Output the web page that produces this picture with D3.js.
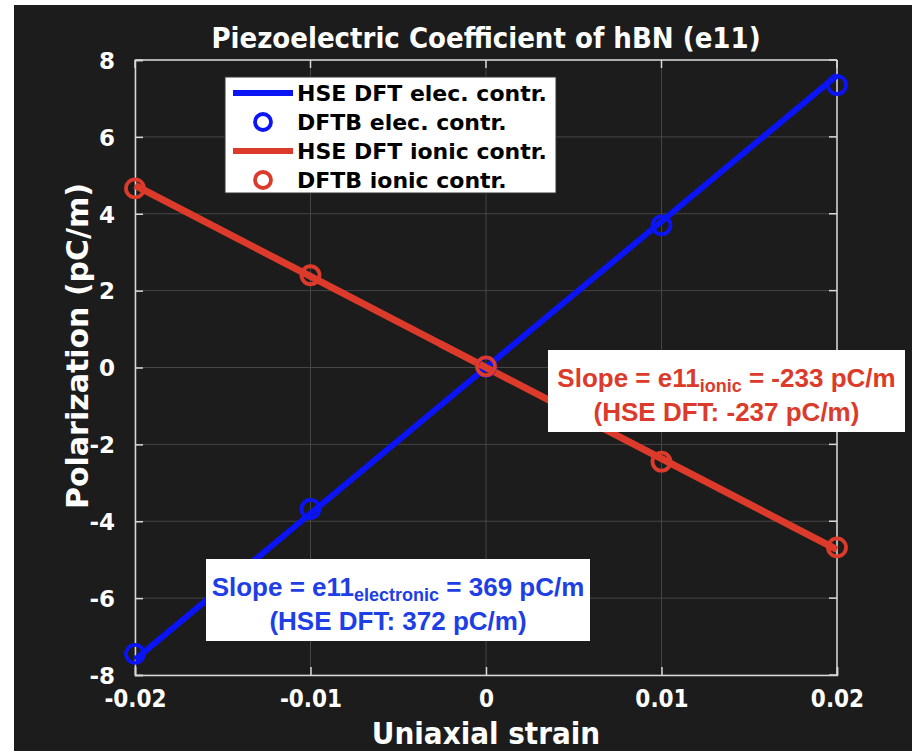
<!DOCTYPE html>
<html><head><meta charset="utf-8">
<script src="https://cdn.jsdelivr.net/npm/d3@7"></script>
<style>body{margin:0;background:#fff;} svg{display:block;}</style>
</head><body>
<svg id="c" width="912" height="751"></svg>
<script>
const strain = [-0.02, -0.01, 0, 0.01, 0.02];
const hseElec = [-7.6, -3.8, 0, 3.8, 7.6];
const dftbElec = [-7.45, -3.68, 0.02, 3.7, 7.35];
const hseIonic = [4.74, 2.37, 0, -2.37, -4.74];
const dftbIonic = [4.66, 2.4, 0.03, -2.45, -4.68];
const xTicks = [-0.02, -0.01, 0, 0.01, 0.02];
const xTickLabels = ["-0.02", "-0.01", "0", "0.01", "0.02"];
const yTicks = [-8, -6, -4, -2, 0, 2, 4, 6, 8];
const legendLabels = ["HSE DFT elec. contr.", "DFTB elec. contr.", "HSE DFT ionic contr.", "DFTB ionic contr."];

const BLUE = "#0a14f5", RED = "#dc3b2b";
const svg = d3.select("#c");
svg.append("rect").attr("x", 14).attr("y", 5).attr("width", 898).attr("height", 746).attr("fill", "#1c1c1c");

const L = 135, R = 837, T = 60, B = 675;
const x = d3.scaleLinear().domain([-0.02, 0.02]).range([L, R]);
const y = d3.scaleLinear().domain([-8, 8]).range([B, T]);

// grid
const g = svg.append("g");
g.selectAll(".gx").data(xTicks).join("line")
  .attr("x1", d => x(d)).attr("x2", d => x(d)).attr("y1", T).attr("y2", B)
  .attr("stroke", "#454545").attr("stroke-width", 1);
g.selectAll(".gy").data(yTicks).join("line")
  .attr("y1", d => y(d)).attr("y2", d => y(d)).attr("x1", L).attr("x2", R)
  .attr("stroke", "#454545").attr("stroke-width", 1);

// axes
const xa = svg.append("g").attr("transform", `translate(0,${B})`)
  .call(d3.axisBottom(x).tickValues(xTicks).tickFormat((d, i) => xTickLabels[i]).tickSize(-8).tickPadding(15));
const ya = svg.append("g").attr("transform", `translate(${L},0)`)
  .call(d3.axisLeft(y).tickValues(yTicks).tickFormat(d => String(d)).tickSize(-8).tickPadding(20));
[xa, ya].forEach(a => {
  a.select(".domain").attr("stroke", "#d8d8d8").attr("stroke-width", 1.5);
  a.selectAll(".tick line").attr("stroke", "#d8d8d8").attr("stroke-width", 1.5);
  a.selectAll(".tick text").attr("fill", "#ffffff").style("font-weight", "bold");
});
xa.selectAll(".tick text").style("font-family", "'DejaVu Sans Condensed', 'DejaVu Sans'").style("font-size", "24px");
ya.selectAll(".tick text").style("font-family", "'DejaVu Sans'").style("font-size", "23px").attr("dy", "0.36em");
// top and right box
svg.append("line").attr("x1", L).attr("x2", R).attr("y1", T).attr("y2", T).attr("stroke", "#d8d8d8").attr("stroke-width", 1.5);
svg.append("line").attr("x1", R).attr("x2", R).attr("y1", T).attr("y2", B).attr("stroke", "#d8d8d8").attr("stroke-width", 1.5);
svg.selectAll(".tt").data(xTicks).join("line").attr("x1", d => x(d)).attr("x2", d => x(d)).attr("y1", T).attr("y2", T + 8).attr("stroke", "#d8d8d8").attr("stroke-width", 1.5);
svg.selectAll(".tr").data(yTicks).join("line").attr("y1", d => y(d)).attr("y2", d => y(d)).attr("x1", R).attr("x2", R - 8).attr("stroke", "#d8d8d8").attr("stroke-width", 1.5);

// lines
const line = d3.line().x(d => x(d[0])).y(d => y(d[1]));
svg.append("path").datum(strain.map((s, i) => [s, hseIonic[i]])).attr("d", line)
  .attr("fill", "none").attr("stroke", RED).attr("stroke-width", 7);
svg.append("path").datum(strain.map((s, i) => [s, hseElec[i]])).attr("d", line)
  .attr("fill", "none").attr("stroke", BLUE).attr("stroke-width", 6);
svg.append("path").datum(strain.map((s, i) => [s, hseIonic[i]])).attr("d", line)
  .attr("fill", "none").attr("stroke", RED).attr("stroke-width", 7)
  .attr("stroke-dasharray", "0 " + (x(-0.001) - x(-0.02)) * 1.03 + " 60 2000");
// markers
svg.selectAll(".me").data(strain.map((s, i) => [s, dftbElec[i]])).join("circle")
  .attr("cx", d => x(d[0])).attr("cy", d => y(d[1])).attr("r", 9)
  .attr("fill", "none").attr("stroke", BLUE).attr("stroke-width", 3.8);
svg.selectAll(".mi").data(strain.map((s, i) => [s, dftbIonic[i]])).join("circle")
  .attr("cx", d => x(d[0])).attr("cy", d => y(d[1])).attr("r", 9)
  .attr("fill", "none").attr("stroke", RED).attr("stroke-width", 3.8);

// title & labels
svg.append("text").attr("x", 486).attr("y", 48).attr("text-anchor", "middle")
  .attr("fill", "#fff").style("font-family", "'DejaVu Sans Condensed', 'DejaVu Sans'").style("font-weight", "bold").style("font-size", "29px")
  .text("Piezoelectric Coefficient of hBN (e11)");
svg.append("text").attr("x", 486).attr("y", 744).attr("text-anchor", "middle")
  .attr("fill", "#fff").style("font-family", "'DejaVu Sans Condensed', 'DejaVu Sans'").style("font-weight", "bold").style("font-size", "31px")
  .text("Uniaxial strain");
svg.append("text").attr("transform", "translate(88,346) rotate(-90)").attr("text-anchor", "middle")
  .attr("fill", "#fff").style("font-family", "'DejaVu Sans'").style("font-weight", "bold").style("font-size", "30px")
  .text("Polarization (pC/m)");

// legend
const lg = svg.append("g");
lg.append("rect").attr("x", 225).attr("y", 77).attr("width", 331).attr("height", 116)
  .attr("fill", "#fff").attr("stroke", "#333").attr("stroke-width", 1);
const rowY = [93, 122, 151, 180];
const colors = [BLUE, BLUE, RED, RED];
legendLabels.forEach((t, i) => {
  if (i % 2 === 0) {
    lg.append("line").attr("x1", 233).attr("x2", 293).attr("y1", rowY[i]).attr("y2", rowY[i])
      .attr("stroke", colors[i]).attr("stroke-width", 6);
  } else {
    lg.append("circle").attr("cx", 263).attr("cy", rowY[i]).attr("r", 8)
      .attr("fill", "none").attr("stroke", colors[i]).attr("stroke-width", 3.8);
  }
  lg.append("text").attr("x", 297).attr("y", rowY[i]).attr("dy", "0.36em")
    .attr("fill", "#000").style("font-family", "'DejaVu Sans'").style("font-weight", "bold").style("font-size", "22px")
    .text(t);
});

// annotations
function note(bx, by, bw, bh, color, sub, rest, line2) {
  const a = svg.append("g");
  a.append("rect").attr("x", bx).attr("y", by).attr("width", bw).attr("height", bh).attr("fill", "#fff");
  const cx = bx + bw / 2;
  const t1 = a.append("text").attr("x", cx).attr("y", by + 37).attr("text-anchor", "middle")
    .attr("fill", color).style("font-family", "'Liberation Sans', Arial").style("font-weight", "bold").style("font-size", "26px");
  t1.append("tspan").text("Slope = e11");
  t1.append("tspan").attr("dy", 5).style("font-size", "18px").text(sub);
  t1.append("tspan").attr("dy", -5).text(rest);
  a.append("text").attr("x", cx).attr("y", by + 71).attr("text-anchor", "middle")
    .attr("fill", color).style("font-family", "'Liberation Sans', Arial").style("font-weight", "bold").style("font-size", "26px")
    .text(line2);
}
note(548, 350, 357, 82, RED, "ionic", " = -233 pC/m", "(HSE DFT: -237 pC/m)");
note(206, 559, 384, 82, "#1e3ee6", "electronic", " = 369 pC/m", "(HSE DFT: 372 pC/m)");
</script>
</body></html>
